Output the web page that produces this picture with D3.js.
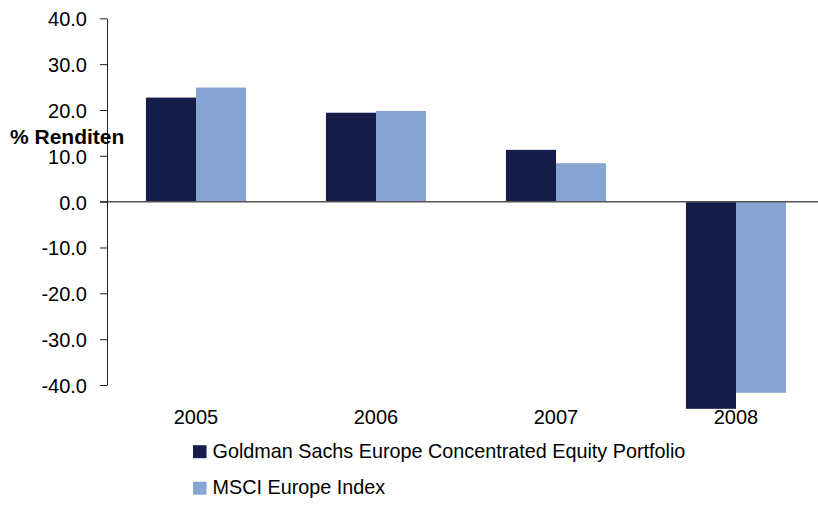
<!DOCTYPE html>
<html>
<head>
<meta charset="utf-8">
<script src="https://cdn.jsdelivr.net/npm/d3@7"></script>
<style>
  body { margin: 0; background: #fff; }
  text { font-family: "Liberation Sans", Arial, sans-serif; fill: #000; }
</style>
</head>
<body>
<svg id="chart" width="818" height="505"></svg>
<script>
// data
var years = ["2005", "2006", "2007", "2008"];
var seriesNames = ["Goldman Sachs Europe Concentrated Equity Portfolio", "MSCI Europe Index"];
var goldman = [22.7, 19.4, 11.3, -45.2];
var msci = [24.9, 19.8, 8.4, -41.7];
var yTicks = [-40, -30, -20, -10, 0, 10, 20, 30, 40];
var colors = ["#151e4a", "#86a5d5"];

var svg = d3.select("#chart");

var rows = years.map((y, i) => ({ year: y, values: [goldman[i], msci[i]] }));

var axisX = 107;
var y = d3.scaleLinear().domain([-40, 40]).range([385, 18.3]);

// 4 categories, 180px each, axis starts at 107
var x0 = d3.scaleBand()
  .domain(years)
  .range([axisX - 1, axisX + 719])
  .paddingInner(0.444)
  .paddingOuter(0.222);

var x1 = d3.scaleBand()
  .domain([0, 1])
  .range([0, x0.bandwidth()]);

// bars
svg.append("g")
  .selectAll("g")
  .data(rows)
  .enter()
  .append("g")
  .attr("transform", (d) => `translate(${x0(d.year)},0)`)
  .selectAll("rect")
  .data((d) => d.values.map((v, i) => ({ v: v, i: i })))
  .enter()
  .append("rect")
  .attr("x", (d) => x1(d.i))
  .attr("width", x1.bandwidth())
  .attr("y", (d) => y(Math.max(0, d.v)))
  .attr("height", (d) => Math.abs(y(d.v) - y(0)))
  .style("fill", (d) => colors[d.i]);

// zero line across the plot
svg.append("line")
  .attr("x1", axisX - 7)
  .attr("x2", 818)
  .attr("y1", y(0))
  .attr("y2", y(0))
  .style("stroke", "#555")
  .style("stroke-width", "1.5px");

// y axis
var yAxis = svg.append("g")
  .attr("transform", `translate(${axisX},0)`)
  .call(
    d3.axisLeft(y)
      .tickValues(yTicks)
      .tickSize(7)
      .tickSizeOuter(0)
      .tickPadding(13)
      .tickFormat((d) => d.toFixed(1))
  );
yAxis.select(".domain").style("stroke", "#222");
yAxis.selectAll(".tick line").style("stroke", "#222");
yAxis.selectAll(".tick text")
  .style("font-size", "20px")
  .style("font-family", '"Liberation Sans", Arial, sans-serif')
  .style("fill", "#000")
  .attr("dy", "0.37em");

// category labels
svg.append("g")
  .selectAll("text")
  .data(years)
  .enter()
  .append("text")
  .text((d) => d)
  .attr("x", (d) => x0(d) + x0.bandwidth() / 2)
  .attr("y", 424)
  .style("text-anchor", "middle")
  .style("font-size", "20px");

// y title
svg.append("text")
  .text("% Renditen")
  .attr("x", 10)
  .attr("y", 144)
  .style("font-size", "21px")
  .style("font-weight", "bold");

// legend
var legend = svg.append("g").attr("transform", "translate(193,0)");
var legendItems = legend
  .selectAll("g")
  .data(seriesNames)
  .enter()
  .append("g")
  .attr("transform", (d, i) => `translate(0,${457.7 + i * 36.5})`);

legendItems.append("rect")
  .attr("x", 0)
  .attr("y", -12.5)
  .attr("width", 13.5)
  .attr("height", 13)
  .style("fill", (d, i) => colors[i]);

legendItems.append("text")
  .text((d) => d)
  .attr("x", 19.5)
  .attr("y", 0)
  .style("font-size", "19.8px");
</script>
</body>
</html>
